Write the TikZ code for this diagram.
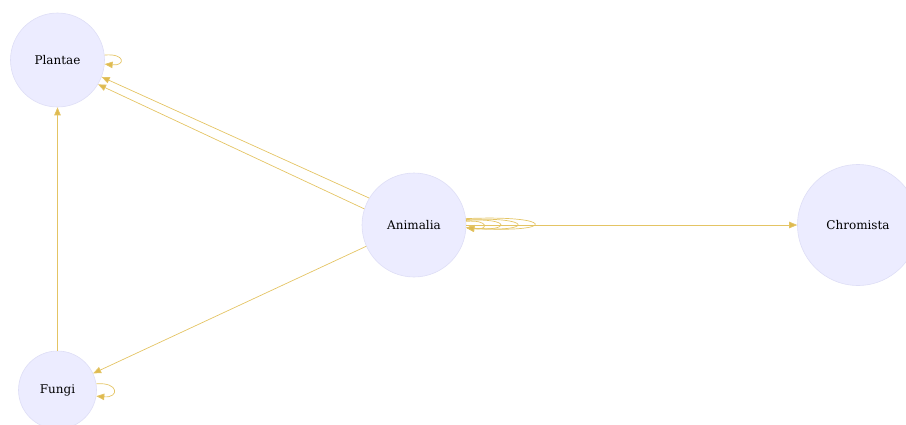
\documentclass[tikz,border=0pt]{standalone}
\usepackage{fontspec}
\setmainfont{DejaVu Serif}
\usetikzlibrary{arrows.meta}
\definecolor{nodefill}{RGB}{236,236,255}
\definecolor{nodeline}{RGB}{222,222,246}
\definecolor{edgecol}{RGB}{228,196,100}
\definecolor{tipcol}{RGB}{222,186,80}
\tikzset{
  kingdom/.style={circle, draw=nodeline, fill=nodefill, line width=0.6pt, inner sep=0pt,
    font=\fontsize{12}{14}\selectfont, text=black},
  rel/.style={draw=edgecol, line width=0.7pt, -{Triangle[length=8pt,width=6.5pt,fill=tipcol]}},
}
\begin{document}
\begin{tikzpicture}[x=1pt,y=-1pt]
\useasboundingbox (0,0) rectangle (906,424);
\node[kingdom, minimum size=94pt] (P) at (57.5,60) {Plantae};
\node[kingdom, minimum size=104pt] (A) at (414,225) {Animalia};
\node[kingdom, minimum size=121pt] (C) at (858,225) {Chromista};
\node[kingdom, minimum size=78pt] (F) at (57.5,390) {Fungi};
% edges
\draw[rel] (F.north) -- (P.south);
\draw[rel] (A.149.6) -- (P.-21.6);
\draw[rel] (A.162) -- (P.-31);
\draw[rel] (A.204.6) -- (F.25);
\draw[rel] (A.east) -- (C.west);
% self loops
\draw[rel] (P.6) .. controls +(21,-2) and +(21,2) .. (P.-5);
\draw[rel] (F.9) .. controls +(23,-2) and +(23,2) .. (F.-9);
\draw[rel] (A.7) .. controls +(91,-4) and +(91,6) .. (A.-3);
\draw[rel] (A.6) .. controls +(68,-3) and +(68,5) .. (A.-3);
\draw[rel] (A.5) .. controls +(45,-3) and +(45,4) .. (A.-3);
\draw[rel] (A.4) .. controls +(23,-2) and +(23,3) .. (A.-3);
\end{tikzpicture}
\end{document}
